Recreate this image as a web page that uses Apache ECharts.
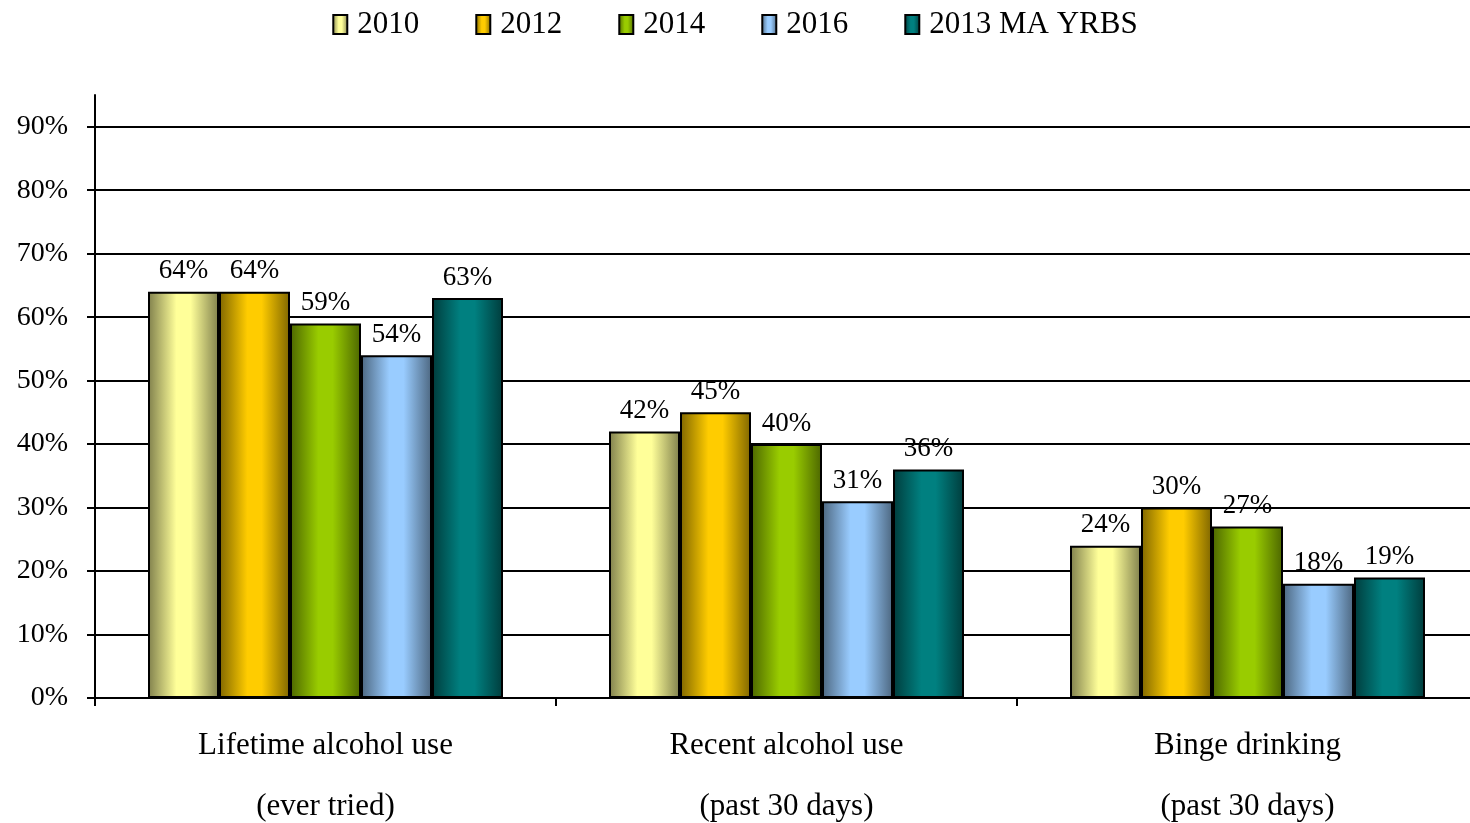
<!DOCTYPE html>
<html>
<head>
<meta charset="utf-8">
<script src="https://cdn.jsdelivr.net/npm/echarts@6/dist/echarts.min.js"></script>
<style>
html,body{margin:0;padding:0;background:#fff;}
#chart{width:1470px;height:823px;}
</style>
</head>
<body>
<div id="chart"></div>
<script>
var categories = ['Lifetime alcohol use\n(ever tried)', 'Recent alcohol use\n(past 30 days)', 'Binge drinking\n(past 30 days)'];
var seriesNames = ['2010', '2012', '2014', '2016', '2013 MA YRBS'];
var values2010 = [64, 42, 24];
var values2012 = [64, 45, 30];
var values2014 = [59, 40, 27];
var values2016 = [54, 31, 18];
var valuesMA = [63, 36, 19];
var yTicks = [0, 10, 20, 30, 40, 50, 60, 70, 80, 90];

var allValues = [values2010, values2012, values2014, values2016, valuesMA];
var lightColors = ['#FFFF99', '#FFCC00', '#99CC00', '#99CCFF', '#008080'];
var darkColors = ['#7F7F4C', '#7F6600', '#4C6600', '#4C667F', '#003C3C'];

function grad(i) {
  return new echarts.graphic.LinearGradient(0, 0, 1, 0, [
    {offset: 0, color: darkColors[i]},
    {offset: 0.4, color: lightColors[i]},
    {offset: 0.6, color: lightColors[i]},
    {offset: 1, color: darkColors[i]}
  ]);
}

var font = 'Liberation Serif';
var series = seriesNames.map(function (name, i) {
  return {
    name: name,
    type: 'bar',
    data: allValues[i],
    barWidth: 71,
    barGap: '0%',
    itemStyle: {color: grad(i), borderColor: '#000', borderWidth: 2},
    label: {
      show: true, position: 'top', distance: 7,
      formatter: '{c}%', color: '#000', fontFamily: font, fontSize: 27
    }
  };
});

var chart = echarts.init(document.getElementById('chart'));
chart.setOption({
  backgroundColor: '#fff',
  animation: false,
  legend: {
    data: seriesNames,
    icon: 'rect',
    top: 4,
    left: 'center',
    itemWidth: 14,
    itemHeight: 19,
    itemGap: 56,
    textStyle: {fontFamily: font, fontSize: 31, color: '#000', padding: [0, 0, 0, 5]},
    itemStyle: {borderColor: '#000', borderWidth: 2}
  },
  grid: {left: 95, top: 95, width: 1383, height: 603, containLabel: false, outerBoundsMode: 'none'},
  xAxis: {
    type: 'category',
    data: categories,
    axisLine: {lineStyle: {color: '#000', width: 2}},
    axisTick: {show: true, length: 8, lineStyle: {color: '#000', width: 2}},
    axisLabel: {fontFamily: font, fontSize: 31, color: '#000', lineHeight: 61, margin: 17, interval: 0}
  },
  yAxis: {
    type: 'value',
    min: 0, max: 95, interval: 10,
    axisLine: {show: true, lineStyle: {color: '#000', width: 2}},
    axisTick: {show: true, length: 8, customValues: yTicks, lineStyle: {color: '#000', width: 2}},
    axisLabel: {fontFamily: font, fontSize: 28, color: '#000', margin: 27, customValues: yTicks, formatter: '{value}%'},
    splitLine: {show: true, lineStyle: {color: '#000', width: 2}}
  },
  series: series
});
</script>
</body>
</html>
